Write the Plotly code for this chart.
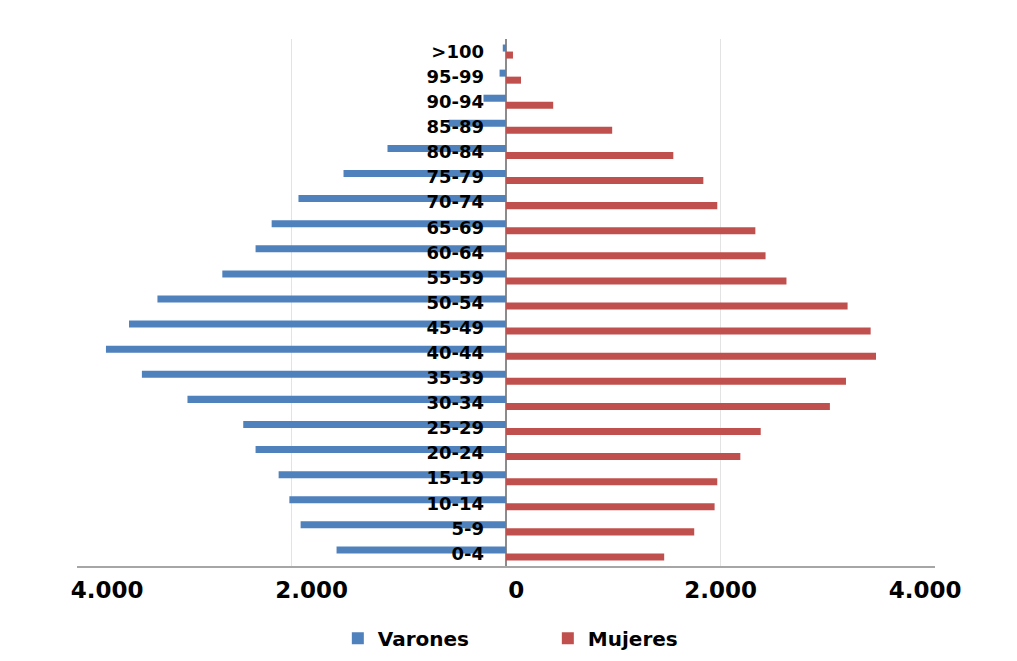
import plotly.graph_objects as go

# Age groups, youngest at the bottom
grupos = ["0-4", "5-9", "10-14", "15-19", "20-24", "25-29", "30-34", "35-39",
          "40-44", "45-49", "50-54", "55-59", "60-64", "65-69", "70-74",
          "75-79", "80-84", "85-89", "90-94", "95-99", ">100"]

varones = [1580, 1915, 2020, 2120, 2335, 2450, 2970, 3395, 3730, 3515, 3250,
           2645, 2335, 2185, 1935, 1515, 1105, 535, 210, 60, 30]

mujeres = [1475, 1755, 1945, 1970, 2185, 2375, 3020, 3170, 3450, 3400, 3185,
           2615, 2420, 2325, 1970, 1840, 1560, 990, 440, 140, 65]

tick_vals = [-4000, -2000, 0, 2000, 4000]
tick_text = ["4.000", "2.000", "0", "2.000", "4.000"]

AZUL = "#4F81BD"
ROJO = "#C0504D"
FUENTE = "DejaVu Sans"

fig = go.Figure()

# Women first so that within each group the men's bar sits above
fig.add_trace(go.Bar(
    y=grupos, x=mujeres, orientation="h", name="Mujeres",
    marker=dict(color=ROJO, line=dict(width=0)), legendrank=2,
))
fig.add_trace(go.Bar(
    y=grupos, x=[-v for v in varones], orientation="h", name="Varones",
    marker=dict(color=AZUL, line=dict(width=0)), legendrank=1,
))

# invisible carrier so the label axis is rendered
fig.add_trace(go.Scatter(
    x=tick_vals, y=[grupos[0]] * len(tick_vals), xaxis="x2", yaxis="y",
    mode="markers", marker=dict(opacity=0), showlegend=False, hoverinfo="skip",
))

fig.update_layout(
    width=1017, height=661,
    margin=dict(l=77, r=82, t=39, b=95, autoexpand=False),
    paper_bgcolor="white", plot_bgcolor="white",
    barmode="group", bargap=0.44, bargroupgap=0,
    showlegend=True,
    legend=dict(
        orientation="h", x=0.304, xanchor="left", y=-0.137, yanchor="middle",
        font=dict(family=FUENTE, size=20, color="black", weight="bold"),
        entrywidth=165, entrywidthmode="pixels",
        traceorder="normal",
    ),
    # value axis: gridlines, zero line and frame
    xaxis=dict(
        range=[-4000, 4000], tickvals=tick_vals,
        showticklabels=False,
        showgrid=True, gridcolor="#E3E3E3", gridwidth=1,
        zeroline=True, zerolinecolor="#8C8C8C", zerolinewidth=1.5,
        showline=True, linecolor="#A6A6A6", linewidth=1.5,
        ticks="", fixedrange=True,
    ),
    # label axis laid over the value axis, slightly compressed spacing
    xaxis2=dict(
        overlaying="x", side="bottom", anchor="y",
        range=[-4295, 4096], tickvals=tick_vals, ticktext=tick_text,
        showgrid=False, zeroline=False, showline=False,
        ticks="", ticklabelstandoff=8,
        tickfont=dict(family=FUENTE, size=23, color="black", weight="bold"),
        fixedrange=True,
    ),
    yaxis=dict(
        type="category", anchor="free", position=0.5,
        categoryorder="array", categoryarray=grupos,
        range=[-0.5, len(grupos) - 0.5],
        showgrid=False, showline=False, zeroline=False, ticks="",
        ticklabelstandoff=22,
        tickfont=dict(family=FUENTE, size=18, color="black", weight="bold"),
        fixedrange=True,
    ),
)

fig.write_html("out.html")
